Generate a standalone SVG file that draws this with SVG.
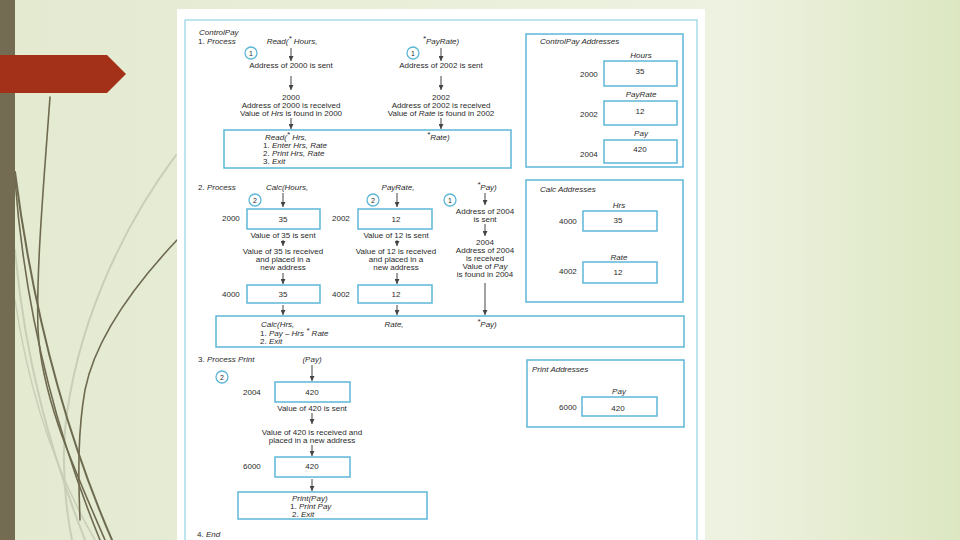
<svg xmlns="http://www.w3.org/2000/svg" width="960" height="540" viewBox="0 0 960 540">
<defs>
<linearGradient id="bg" x1="0" y1="0" x2="1" y2="0">
<stop offset="0" stop-color="#e3ead0"/>
<stop offset="0.76" stop-color="#eef2e1"/>
<stop offset="1" stop-color="#dce7c2"/>
</linearGradient>
<marker id="ah2" markerWidth="5" markerHeight="5" refX="5" refY="2.5" orient="auto" markerUnits="userSpaceOnUse">
<path d="M0,0 L5,2.5 L0,5 Z" fill="#444"/>
</marker>
<style>
.t{font-family:"Liberation Sans",Arial,sans-serif;font-size:8px;fill:#2a2a2a}
.i{font-style:italic}
.m{text-anchor:middle}
.box{fill:#fff;stroke:#5cb6d8;stroke-width:1.5}
.circ{fill:#fff;stroke:#5cb6d8;stroke-width:1.3}
.cn{font-family:"Liberation Sans",Arial,sans-serif;font-size:7px;fill:#2a2a2a;text-anchor:middle}
.conn line{stroke:#444;stroke-width:1;marker-end:url(#ah2)}
.deco{fill:none;stroke:#6e6a50;stroke-linecap:round}
.decol{fill:none;stroke:#c9cfb6;stroke-linecap:round}
</style>
</defs>

<g id="background">
<rect x="0" y="0" width="960" height="540" fill="url(#bg)"/>
<path class="decol" stroke-width="2" d="M176,155 C120,230 75,330 65,430 C62,470 66,510 72,540"/>
<path class="decol" stroke-width="2" d="M15,250 C25,360 50,450 85,540"/>
<path class="decol" stroke-width="1.5" d="M15,300 C30,400 60,480 95,540"/>
<path class="deco" stroke-width="1.6" d="M50,97 C44,180 36,270 38,330 C42,400 75,470 105,540"/>
<path class="deco" stroke-width="2" d="M15,172 C30,290 60,420 112,540"/>
<path class="deco" stroke-width="1.6" d="M15,180 C25,310 55,430 100,540"/>
<path class="deco" stroke-width="1.6" d="M177,240 C130,290 95,340 85,390 C78,430 78,470 80,520"/>
<rect x="0" y="0" width="15" height="540" fill="#736b52"/>
<polygon points="0,55 107,55 126,74 107,93 0,93" fill="#a3311a"/>
<rect x="177" y="9" width="528" height="531" fill="#ffffff"/>
<rect x="185" y="20" width="512" height="530" fill="none" stroke="#a9dcea" stroke-width="1.5"/>
</g>

<g id="connectors" class="conn">
<line x1="291" y1="48" x2="291" y2="61"/>
<line x1="291" y1="76" x2="291" y2="90"/>
<line x1="291" y1="118" x2="291" y2="129"/>
<line x1="441" y1="48" x2="441" y2="61"/>
<line x1="441" y1="76" x2="441" y2="90"/>
<line x1="441" y1="118" x2="441" y2="129"/>
<line x1="283" y1="193" x2="283" y2="207"/>
<line x1="283" y1="240" x2="283" y2="246"/>
<line x1="283" y1="273" x2="283" y2="284"/>
<line x1="283" y1="305" x2="283" y2="315"/>
<line x1="397" y1="193" x2="397" y2="207"/>
<line x1="397" y1="240" x2="397" y2="246"/>
<line x1="397" y1="273" x2="397" y2="284"/>
<line x1="397" y1="305" x2="397" y2="315"/>
<line x1="485" y1="193" x2="485" y2="205"/>
<line x1="485" y1="224" x2="485" y2="236"/>
<line x1="485" y1="283" x2="485" y2="315"/>
<line x1="312" y1="365" x2="312" y2="381"/>
<line x1="312" y1="413" x2="312" y2="424"/>
<line x1="312" y1="445" x2="312" y2="456"/>
<line x1="312" y1="479" x2="312" y2="491"/>
</g>

<g id="section1">
<text class="t i" x="199" y="35">ControlPay</text>
<text class="t" x="198" y="44">1. <tspan class="i">Process</tspan></text>
<text class="t i m" x="292" y="44">Read(<tspan dy="-3">*</tspan><tspan dy="3"> Hours,</tspan></text>
<text class="t i m" x="441" y="44"><tspan dy="-3">*</tspan><tspan dy="3">PayRate)</tspan></text>
</g>

<g id="circle-1a"><circle class="circ" cx="251" cy="53" r="6"/><text class="cn" x="251" y="55.5">1</text></g>
<g id="circle-1b"><circle class="circ" cx="413" cy="53" r="6"/><text class="cn" x="413" y="55.5">1</text></g>

<g id="send-2000"><text class="t m" x="291" y="68">Address of 2000 is sent</text></g>
<g id="send-2002"><text class="t m" x="441" y="68">Address of 2002 is sent</text></g>
<g id="recv-2000">
<text class="t m" x="291" y="100">2000</text>
<text class="t m" x="291" y="108">Address of 2000 is received</text>
<text class="t m" x="291" y="116">Value of <tspan class="i">Hrs</tspan> is found in 2000</text>
</g>
<g id="recv-2002">
<text class="t m" x="441" y="100">2002</text>
<text class="t m" x="441" y="108">Address of 2002 is received</text>
<text class="t m" x="441" y="116">Value of <tspan class="i">Rate</tspan> is found in 2002</text>
</g>

<g id="read-module">
<rect class="box" x="224" y="130" width="287" height="38"/>
<text class="t i" x="265" y="140">Read(<tspan dy="-3">*</tspan><tspan dy="3"> Hrs,</tspan></text>
<text class="t i" x="427" y="140"><tspan dy="-3">*</tspan><tspan dy="3">Rate)</tspan></text>
<text class="t" x="263" y="148">1. <tspan class="i">Enter Hrs, Rate</tspan></text>
<text class="t" x="263" y="156">2. <tspan class="i">Print Hrs, Rate</tspan></text>
<text class="t" x="263" y="164">3. <tspan class="i">Exit</tspan></text>
</g>

<g id="controlpay-addresses">
<rect class="box" x="526" y="34" width="157" height="133"/>
<text class="t i" x="540" y="44">ControlPay Addresses</text>
<text class="t i m" x="641" y="58">Hours</text>
<rect class="box" x="604" y="61" width="73" height="25"/>
<text class="t m" x="640" y="74">35</text>
<text class="t" x="580" y="77">2000</text>
<text class="t i m" x="641" y="97">PayRate</text>
<rect class="box" x="604" y="101" width="73" height="24"/>
<text class="t m" x="640" y="114">12</text>
<text class="t" x="580" y="117">2002</text>
<text class="t i m" x="641" y="136">Pay</text>
<rect class="box" x="604" y="140" width="73" height="23"/>
<text class="t m" x="640" y="152">420</text>
<text class="t" x="580" y="157">2004</text>
</g>

<g id="section2">
<text class="t" x="198" y="190">2. <tspan class="i">Process</tspan></text>
<text class="t i m" x="287" y="190">Calc(Hours,</text>
<text class="t i m" x="398" y="190">PayRate,</text>
<text class="t i m" x="487" y="190"><tspan dy="-3">*</tspan><tspan dy="3">Pay)</tspan></text>
</g>

<g id="circle-2a"><circle class="circ" cx="255" cy="200" r="6"/><text class="cn" x="255" y="202.5">2</text></g>
<g id="circle-2b"><circle class="circ" cx="373" cy="200" r="6"/><text class="cn" x="373" y="202.5">2</text></g>
<g id="circle-1c"><circle class="circ" cx="450" cy="200" r="6"/><text class="cn" x="450" y="202.5">1</text></g>

<g id="hours-2000">
<rect class="box" x="247" y="209" width="73" height="20"/>
<text class="t m" x="283" y="222">35</text>
<text class="t" x="222" y="221">2000</text>
</g>
<g id="payrate-2002">
<rect class="box" x="358" y="209" width="74" height="20"/>
<text class="t m" x="396" y="222">12</text>
<text class="t" x="332" y="221">2002</text>
</g>
<g id="send-35">
<text class="t m" x="283" y="238">Value of 35 is sent</text>
<text class="t m" x="283" y="254">Value of 35 is received</text>
<text class="t m" x="283" y="262">and placed in a</text>
<text class="t m" x="283" y="270">new address</text>
</g>
<g id="send-12">
<text class="t m" x="396" y="238">Value of 12 is sent</text>
<text class="t m" x="396" y="254">Value of 12 is received</text>
<text class="t m" x="396" y="262">and placed in a</text>
<text class="t m" x="396" y="270">new address</text>
</g>
<g id="send-2004">
<text class="t m" x="485" y="214">Address of 2004</text>
<text class="t m" x="485" y="222">is sent</text>
<text class="t m" x="485" y="245">2004</text>
<text class="t m" x="485" y="253">Address of 2004</text>
<text class="t m" x="485" y="261">is received</text>
<text class="t m" x="485" y="269">Value of <tspan class="i">Pay</tspan></text>
<text class="t m" x="485" y="277">is found in 2004</text>
</g>
<g id="hrs-4000">
<rect class="box" x="247" y="285" width="73" height="18"/>
<text class="t m" x="283" y="297">35</text>
<text class="t" x="222" y="297">4000</text>
</g>
<g id="rate-4002">
<rect class="box" x="358" y="285" width="74" height="18"/>
<text class="t m" x="396" y="297">12</text>
<text class="t" x="332" y="297">4002</text>
</g>

<g id="calc-module">
<rect class="box" x="216" y="316" width="468" height="31"/>
<text class="t i" x="261" y="327">Calc(Hrs,</text>
<text class="t i m" x="394" y="327">Rate,</text>
<text class="t i m" x="487" y="327"><tspan dy="-3">*</tspan><tspan dy="3">Pay)</tspan></text>
<text class="t" x="260" y="336">1. <tspan class="i">Pay – Hrs <tspan dy="-3">*</tspan><tspan dy="3"> Rate</tspan></tspan></text>
<text class="t" x="260" y="344">2. <tspan class="i">Exit</tspan></text>
</g>

<g id="calc-addresses">
<rect class="box" x="526" y="180" width="157" height="122"/>
<text class="t i" x="540" y="192">Calc Addresses</text>
<text class="t i m" x="619" y="208">Hrs</text>
<rect class="box" x="583" y="211" width="74" height="20"/>
<text class="t m" x="618" y="223">35</text>
<text class="t" x="559" y="224">4000</text>
<text class="t i m" x="619" y="260">Rate</text>
<rect class="box" x="583" y="262" width="74" height="21"/>
<text class="t m" x="618" y="275">12</text>
<text class="t" x="559" y="274">4002</text>
</g>

<g id="section3">
<text class="t" x="198" y="362">3. <tspan class="i">Process Print</tspan></text>
<text class="t i m" x="312" y="362">(Pay)</text>
</g>
<g id="circle-2c"><circle class="circ" cx="222" cy="377" r="6"/><text class="cn" x="222" y="379.5">2</text></g>
<g id="pay-2004">
<rect class="box" x="275" y="382" width="75" height="20"/>
<text class="t m" x="312" y="395">420</text>
<text class="t" x="243" y="395">2004</text>
</g>
<g id="send-420">
<text class="t m" x="312" y="411">Value of 420 is sent</text>
<text class="t m" x="312" y="435">Value of 420 is received and</text>
<text class="t m" x="312" y="443">placed in a new address</text>
</g>
<g id="pay-6000">
<rect class="box" x="275" y="457" width="75" height="20"/>
<text class="t m" x="312" y="469">420</text>
<text class="t" x="243" y="469">6000</text>
</g>
<g id="print-module">
<rect class="box" x="238" y="492" width="189" height="27"/>
<text class="t i" x="292" y="501">Print(Pay)</text>
<text class="t" x="290" y="509">1. <tspan class="i">Print Pay</tspan></text>
<text class="t" x="292" y="517">2. <tspan class="i">Exit</tspan></text>
</g>

<g id="print-addresses">
<rect class="box" x="527" y="360" width="157" height="67"/>
<text class="t i" x="532" y="372">Print Addresses</text>
<text class="t i m" x="619" y="394">Pay</text>
<rect class="box" x="582" y="397" width="75" height="19"/>
<text class="t m" x="618" y="411">420</text>
<text class="t" x="559" y="410">6000</text>
</g>

<g id="end">
<text class="t" x="197" y="537">4. <tspan class="i">End</tspan></text>
</g>
</svg>
